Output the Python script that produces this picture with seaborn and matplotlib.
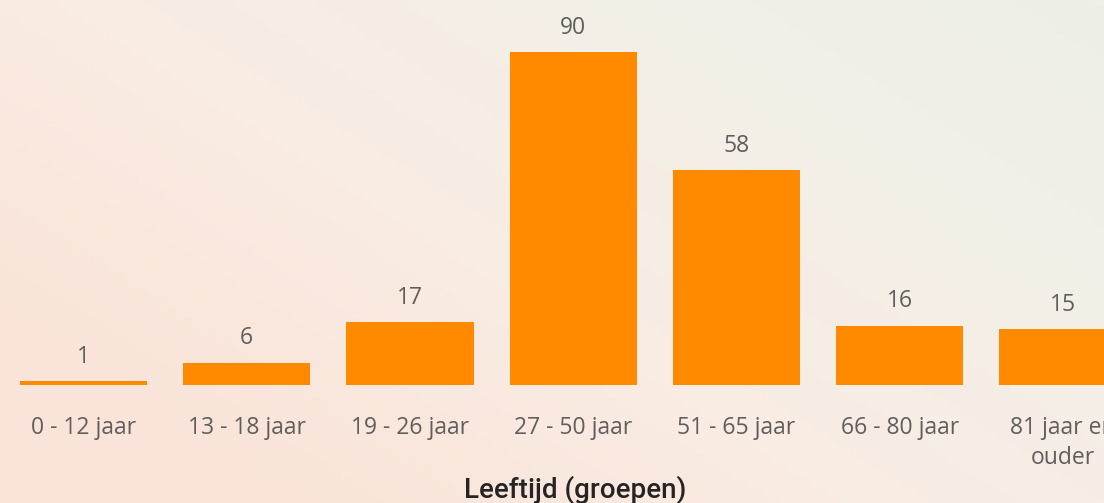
import numpy as np
import pandas as pd
import matplotlib
matplotlib.use("Agg")
import matplotlib.pyplot as plt
import seaborn as sns
from matplotlib.colors import LinearSegmentedColormap

# data
groepen = ["0 - 12 jaar", "13 - 18 jaar", "19 - 26 jaar", "27 - 50 jaar",
           "51 - 65 jaar", "66 - 80 jaar", "81 jaar en\nouder"]
aantal = [1, 6, 17, 90, 58, 16, 15]

df = pd.DataFrame({"groep": groepen, "aantal": aantal})

sns.set_style("white")
plt.rcParams["font.family"] = ["Open Sans", "DejaVu Sans"]

fig = plt.figure(figsize=(11.04, 5.03), dpi=100)

# achtergrond (verloop peach -> lichtgroen)
bg = fig.add_axes([0, 0, 1, 1])
xx, yy = np.meshgrid(np.linspace(0, 1, 200), np.linspace(0, 1, 100))
t = np.clip(0.7 * xx + 0.5 * yy - 0.2, 0, 1)
cmap = LinearSegmentedColormap.from_list("bg", ["#FAE4D9", "#F9ECE3", "#F3EFE7", "#EDF0E8"])
bg.imshow(t, cmap=cmap, aspect="auto", origin="lower", extent=[0, 1, 0, 1])
bg.axis("off")

ax = fig.add_axes([0.0017, 0.2346, 1.035, 0.7356])
ax.patch.set_alpha(0)
sns.barplot(data=df, x="groep", y="aantal", color="#FF8A00", saturation=1,
            width=0.78, linewidth=0, ax=ax)
ax.set_xlim(-0.5, 6.5)
ax.set_ylim(0, 100)

for i, v in enumerate(aantal):
    ax.text(i, v + 6.6, str(v), ha="center", va="center",
            fontsize=16.5, color="#605E5C")

ax.set_yticks([])
ax.set_ylabel("")
ax.set_xlabel("")
ax.tick_params(axis="x", length=0, pad=22, labelsize=16.5, labelcolor="#605E5C")
for lbl in ax.get_xticklabels():
    lbl.set_linespacing(1.35)
for s in ax.spines.values():
    s.set_visible(False)

fig.text(0.521, 0.01, "Leeftijd (groepen)", ha="center", va="baseline",
         fontsize=20, color="#252423", fontweight="medium",
         family=["Roboto", "DejaVu Sans"])

fig.savefig("out.png", dpi=100)
